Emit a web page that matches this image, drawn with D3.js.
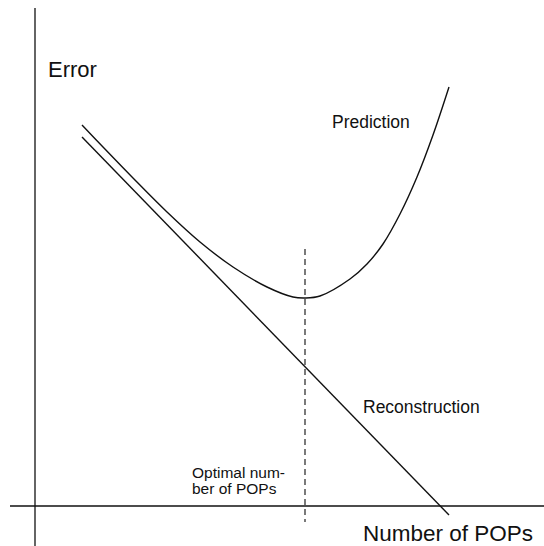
<!DOCTYPE html>
<html>
<head>
<meta charset="utf-8">
<script src="https://cdn.jsdelivr.net/npm/d3@7"></script>
<style>
  body { margin: 0; background: #fff; }
  svg text { font-family: "Liberation Sans", Arial, sans-serif; fill: #111; }
</style>
</head>
<body>
<svg id="chart"></svg>
<script>
// curve values (arbitrary units, 0..100)
var predX = [9.4, 13.6, 19.6, 26.4, 33, 39.6, 46.4, 51.6, 54, 57, 63, 66.4, 69.6, 73, 76.4, 79.6, 82.8];
var predY = [76.2, 71.8, 65.6, 58.8, 52.8, 47.8, 43.8, 41.8, 41.6, 42, 45.4, 48.4, 52.4, 58.4, 65.8, 74.2, 83.8];
var reconX = [9.4, 82.8];
var reconY = [73.8, -1.8];
var optimalX = 54;
var optimalSpan = [-3.2, 51.4];

var width = 544,
    height = 546;

var svg = d3.select("#chart")
    .attr("width", width)
    .attr("height", height);

//scales: origin of the axes sits at (35, 506)
var x = d3.scaleLinear().domain([0, 100]).range([35, 535]);
var y = d3.scaleLinear().domain([0, 100]).range([506, 6]);

//axes, drawn as plain lines (no ticks)
svg.append("line")
    .attr("x1", x(0)).attr("x2", x(0))
    .attr("y1", y(99.6)).attr("y2", y(-8))
    .attr("stroke", "#111").attr("stroke-width", 1.3);

svg.append("line")
    .attr("x1", x(-5)).attr("x2", x(101.8))
    .attr("y1", y(0)).attr("y2", y(0))
    .attr("stroke", "#111").attr("stroke-width", 1.5);

//optimal number marker
svg.append("line")
    .attr("x1", x(optimalX)).attr("x2", x(optimalX))
    .attr("y1", y(optimalSpan[1])).attr("y2", y(optimalSpan[0]))
    .attr("stroke", "#222").attr("stroke-width", 1.2)
    .attr("stroke-dasharray", "6,4");

var line = d3.line()
    .x(function (d) { return x(d[0]); })
    .y(function (d) { return y(d[1]); });

svg.append("path")
    .datum(d3.zip(reconX, reconY))
    .attr("d", line)
    .attr("fill", "none")
    .attr("stroke", "#111")
    .attr("stroke-width", 1.4);

svg.append("path")
    .datum(d3.zip(predX, predY))
    .attr("d", line.curve(d3.curveCatmullRom.alpha(0.5)))
    .attr("fill", "none")
    .attr("stroke", "#111")
    .attr("stroke-width", 1.4);

//labels
svg.append("text")
    .attr("x", 48).attr("y", 77)
    .style("font-size", "22px")
    .text("Error");

svg.append("text")
    .attr("x", 332).attr("y", 128)
    .style("font-size", "17.5px")
    .text("Prediction");

svg.append("text")
    .attr("x", 363).attr("y", 413)
    .style("font-size", "17.5px")
    .text("Reconstruction");

svg.append("text")
    .attr("x", 192).attr("y", 478)
    .style("font-size", "15.5px")
    .text("Optimal num-");

svg.append("text")
    .attr("x", 192).attr("y", 494)
    .style("font-size", "15.5px")
    .text("ber of POPs");

svg.append("text")
    .attr("x", 363).attr("y", 541)
    .style("font-size", "22.5px")
    .text("Number of POPs");
</script>
</body>
</html>
